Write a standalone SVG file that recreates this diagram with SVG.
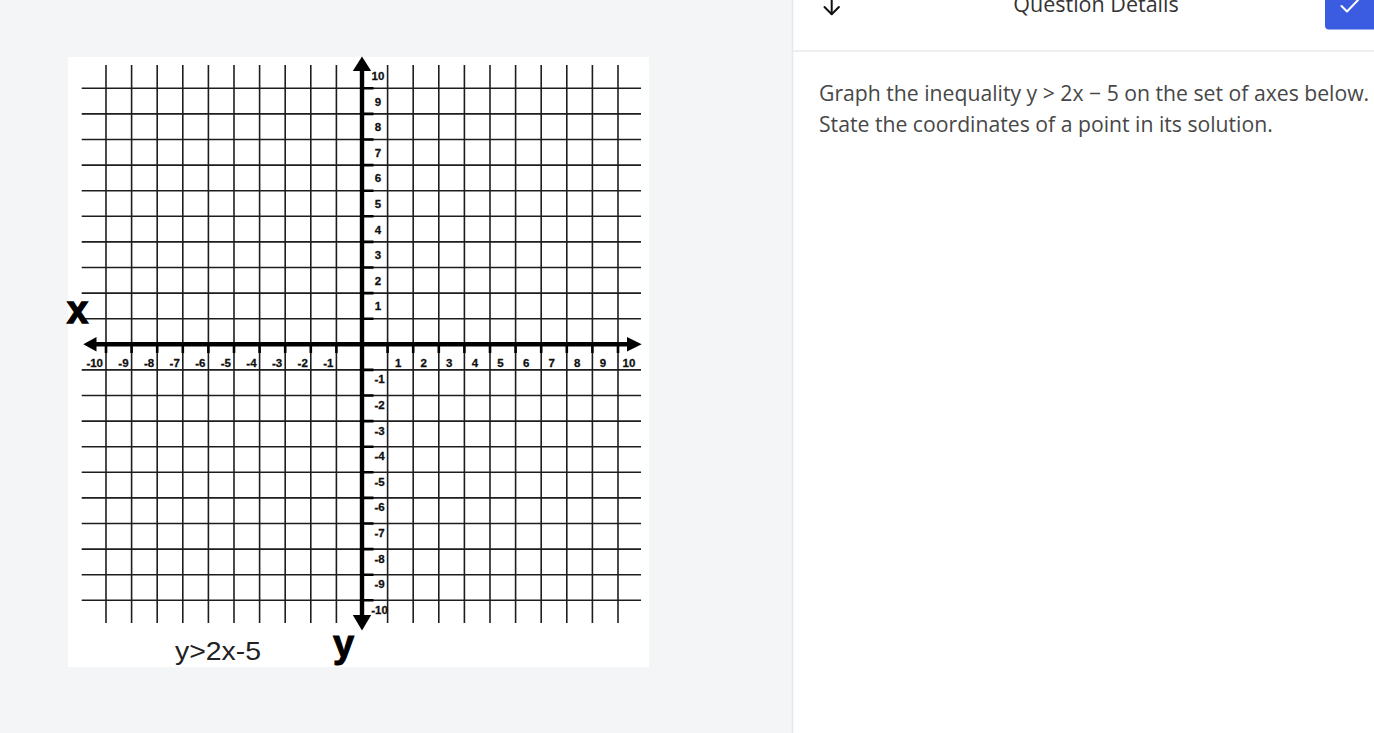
<svg xmlns="http://www.w3.org/2000/svg" width="1374" height="733" viewBox="0 0 1374 733">
<style>
.grid{stroke:#1e1e1e;stroke-width:1.6;fill:none}
.axis{stroke:#000;stroke-width:4.4;fill:none}
.tick{stroke:#000;stroke-width:2.6;fill:none}
.lbl{font-family:"Liberation Sans",Arial,sans-serif;font-weight:bold;font-size:11.5px;fill:#111;stroke:#111;stroke-width:0.3}
.xl{text-anchor:end}
.xp{text-anchor:middle}
.yl{text-anchor:middle}
.ui{font-family:"Open Sans","Noto Sans",sans-serif}
</style>
<rect x="0" y="0" width="1374" height="733" fill="#f4f5f7"/>
<g id="panel">
<rect x="792" y="0" width="582" height="733" fill="#ffffff"/>
<line x1="792.5" y1="0" x2="792.5" y2="733" stroke="#e6e8eb" stroke-width="1.5"/>
<line x1="793" y1="51" x2="1374" y2="51" stroke="#e6e8eb" stroke-width="1.5"/>
</g>
<g id="header">
<g id="down-arrow" stroke="#111" stroke-width="2" fill="none" stroke-linecap="round" stroke-linejoin="round">
<line x1="831.7" y1="-2" x2="831.7" y2="14"/>
<polyline points="824.5,7 831.7,14.2 838.9,7"/>
</g>
<text class="ui" x="1096" y="12" text-anchor="middle" font-size="21.5" fill="#333">Question Details</text>
<g id="check-button">
<rect x="1325" y="-10" width="54" height="39.5" rx="4" fill="#3b5ce0"/>
<polyline points="1341.5,6 1347,11.5 1358,0" stroke="#fff" stroke-width="2" fill="none" stroke-linecap="round" stroke-linejoin="round"/>
</g>
</g>
<g id="question" class="ui" font-size="21.2" fill="#474747">
<text x="819" y="100.5">Graph the inequality y &gt; 2x − 5 on the set of axes below.</text>
<text x="819" y="131.5">State the coordinates of a point in its solution.</text>
</g>
<g id="graph">
<rect x="68" y="57" width="581" height="610" fill="#ffffff"/>
<path class="grid" d="M106 65V623M131.6 65V623M157.2 65V623M182.8 65V623M208.4 65V623M234 65V623M259.6 65V623M285.2 65V623M310.8 65V623M336.4 65V623M387.6 65V623M413.2 65V623M438.8 65V623M464.4 65V623M490 65V623M515.6 65V623M541.2 65V623M566.8 65V623M592.4 65V623M618 65V623"/>
<path class="grid" d="M81.7 88.3H641M81.7 113.9H641M81.7 139.5H641M81.7 165.1H641M81.7 190.7H641M81.7 216.3H641M81.7 241.9H641M81.7 267.5H641M81.7 293.1H641M81.7 318.7H641M81.7 369.9H641M81.7 395.5H641M81.7 421.1H641M81.7 446.7H641M81.7 472.3H641M81.7 497.9H641M81.7 523.5H641M81.7 549.1H641M81.7 574.7H641M81.7 600.3H641"/>
<g id="ticks">
<path class="tick" d="M106 344V353M131.6 344V353M157.2 344V353M182.8 344V353M208.4 344V353M234 344V353M259.6 344V353M285.2 344V353M310.8 344V353M336.4 344V353M387.6 344V353M413.2 344V353M438.8 344V353M464.4 344V353M490 344V353M515.6 344V353M541.2 344V353M566.8 344V353M592.4 344V353M618 344V353"/>
<path class="tick" d="M362 88.3H373.5M362 113.9H373.5M362 139.5H373.5M362 165.1H373.5M362 190.7H373.5M362 216.3H373.5M362 241.9H373.5M362 267.5H373.5M362 293.1H373.5M362 318.7H373.5M362 369.9H373.5M362 395.5H373.5M362 421.1H373.5M362 446.7H373.5M362 472.3H373.5M362 497.9H373.5M362 523.5H373.5M362 549.1H373.5M362 574.7H373.5M362 600.3H373.5"/>
</g>
<g id="axes">
<line class="axis" x1="94" y1="344.3" x2="630" y2="344.3"/>
<line class="axis" x1="362" y1="68" x2="362" y2="618"/>
<polygon points="83.3,344.3 96.5,337 96.5,351.6" fill="#000"/>
<polygon points="641.7,344.3 627,337 627,351.6" fill="#000"/>
<polygon points="362,56.5 352.8,71 371.2,71" fill="#000"/>
<polygon points="362,630.5 352.8,615 371.2,615" fill="#000"/>
</g>
<g id="x-labels" class="lbl">
<text class="xl" x="103" y="366.8">-10</text>
<text class="xl" x="128.6" y="366.8">-9</text>
<text class="xl" x="154.2" y="366.8">-8</text>
<text class="xl" x="179.8" y="366.8">-7</text>
<text class="xl" x="205.4" y="366.8">-6</text>
<text class="xl" x="231" y="366.8">-5</text>
<text class="xl" x="256.6" y="366.8">-4</text>
<text class="xl" x="282.2" y="366.8">-3</text>
<text class="xl" x="307.8" y="366.8">-2</text>
<text class="xl" x="333.4" y="366.8">-1</text>
<text class="xp" x="398.1" y="366.8">1</text>
<text class="xp" x="423.7" y="366.8">2</text>
<text class="xp" x="449.3" y="366.8">3</text>
<text class="xp" x="474.9" y="366.8">4</text>
<text class="xp" x="500.5" y="366.8">5</text>
<text class="xp" x="526.1" y="366.8">6</text>
<text class="xp" x="551.7" y="366.8">7</text>
<text class="xp" x="577.3" y="366.8">8</text>
<text class="xp" x="602.9" y="366.8">9</text>
<text class="xp" x="629" y="366.8">10</text>
</g>
<g id="y-labels" class="lbl">
<text class="yl" x="378" y="80">10</text>
<text class="yl" x="378" y="105.6">9</text>
<text class="yl" x="378" y="131.2">8</text>
<text class="yl" x="378" y="156.8">7</text>
<text class="yl" x="378" y="182.4">6</text>
<text class="yl" x="378" y="208">5</text>
<text class="yl" x="378" y="233.6">4</text>
<text class="yl" x="378" y="259.2">3</text>
<text class="yl" x="378" y="284.8">2</text>
<text class="yl" x="378" y="310.4">1</text>
<text class="yl" x="379.5" y="383.4">-1</text>
<text class="yl" x="379.5" y="409">-2</text>
<text class="yl" x="379.5" y="434.6">-3</text>
<text class="yl" x="379.5" y="460.2">-4</text>
<text class="yl" x="379.5" y="485.8">-5</text>
<text class="yl" x="379.5" y="511.4">-6</text>
<text class="yl" x="379.5" y="537">-7</text>
<text class="yl" x="379.5" y="562.6">-8</text>
<text class="yl" x="379.5" y="588.2">-9</text>
<text class="yl" x="379.5" y="613.6">-10</text>
</g>
<text id="x-name" x="67" y="323" font-family="Liberation Sans,Arial,sans-serif" font-weight="bold" font-size="38" fill="#000" stroke="#000" stroke-width="1.4">x</text>
<text id="y-name" x="333" y="656.5" font-family="Liberation Sans,Arial,sans-serif" font-weight="bold" font-size="38" fill="#000" stroke="#000" stroke-width="1">y</text>
<text id="inequality" x="175" y="659.5" font-family="Liberation Sans,Arial,sans-serif" font-size="25" fill="#222" textLength="86" lengthAdjust="spacingAndGlyphs">y&gt;2x-5</text>
</g>
</svg>
